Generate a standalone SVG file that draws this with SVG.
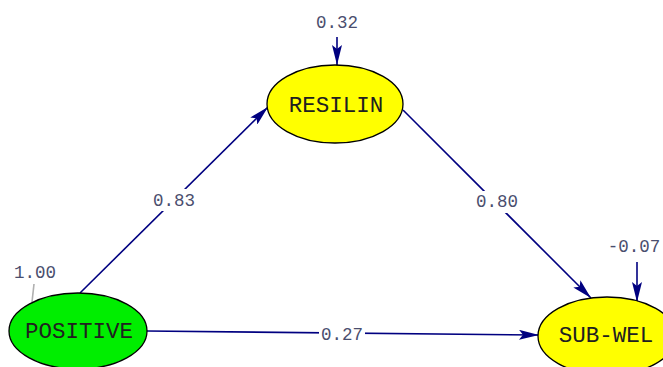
<svg xmlns="http://www.w3.org/2000/svg" width="663" height="367" viewBox="0 0 663 367">
<defs>
<marker id="ah" viewBox="0 0 20 10" refX="20" refY="5" markerWidth="20" markerHeight="10" markerUnits="userSpaceOnUse" orient="auto">
<path d="M0,0 L20,5 L0,10 L4,5 Z" fill="#000080"/>
</marker>
<style>
.node{stroke:#000;stroke-width:1.3}
.nt{font-family:"Liberation Mono","Courier New",monospace;font-size:22.5px;fill:#202020;text-anchor:middle}
.lb{font-family:"Liberation Mono","Courier New",monospace;font-size:17.5px;fill:#4a4e6e;text-anchor:middle}
.c{stroke:#000080;stroke-width:1.6;fill:none;marker-end:url(#ah)}
.bg{fill:#fff}
</style>
</defs>
<rect width="663" height="367" fill="#fff"/>
<g id="connectors">
<line class="c" x1="80" y1="293" x2="268" y2="107"/>
<line class="c" x1="403" y1="110" x2="591" y2="298"/>
<line class="c" x1="147" y1="331" x2="539" y2="335"/>
<line class="c" x1="337" y1="37" x2="337" y2="65"/>
<line class="c" x1="637" y1="262" x2="637" y2="302"/>
<line x1="34" y1="284" x2="32" y2="302" stroke="#b0b0b0" stroke-width="1.6"/>
<rect class="bg" x="151" y="189" width="46" height="22"/>
<text class="lb" x="174" y="206">0.83</text>
<rect class="bg" x="474" y="191" width="46" height="22"/>
<text class="lb" x="497" y="207">0.80</text>
<rect class="bg" x="319" y="323" width="46" height="22"/>
<text class="lb" x="342" y="340">0.27</text>
<text class="lb" x="337" y="28">0.32</text>
<text class="lb" x="634" y="252">-0.07</text>
<text class="lb" x="35" y="278">1.00</text>
</g>
<g id="RESILIN">
<ellipse class="node" cx="335" cy="104" rx="68" ry="39" fill="#ffff00"/>
<text class="nt" x="336" y="112">RESILIN</text>
</g>
<g id="POSITIVE">
<ellipse class="node" cx="78" cy="331" rx="69" ry="38" fill="#00ee00"/>
<text class="nt" x="79" y="338">POSITIVE</text>
</g>
<g id="SUB-WEL">
<ellipse class="node" cx="607" cy="336" rx="69" ry="39" fill="#ffff00"/>
<text class="nt" x="606" y="342">SUB-WEL</text>
</g>
</svg>
